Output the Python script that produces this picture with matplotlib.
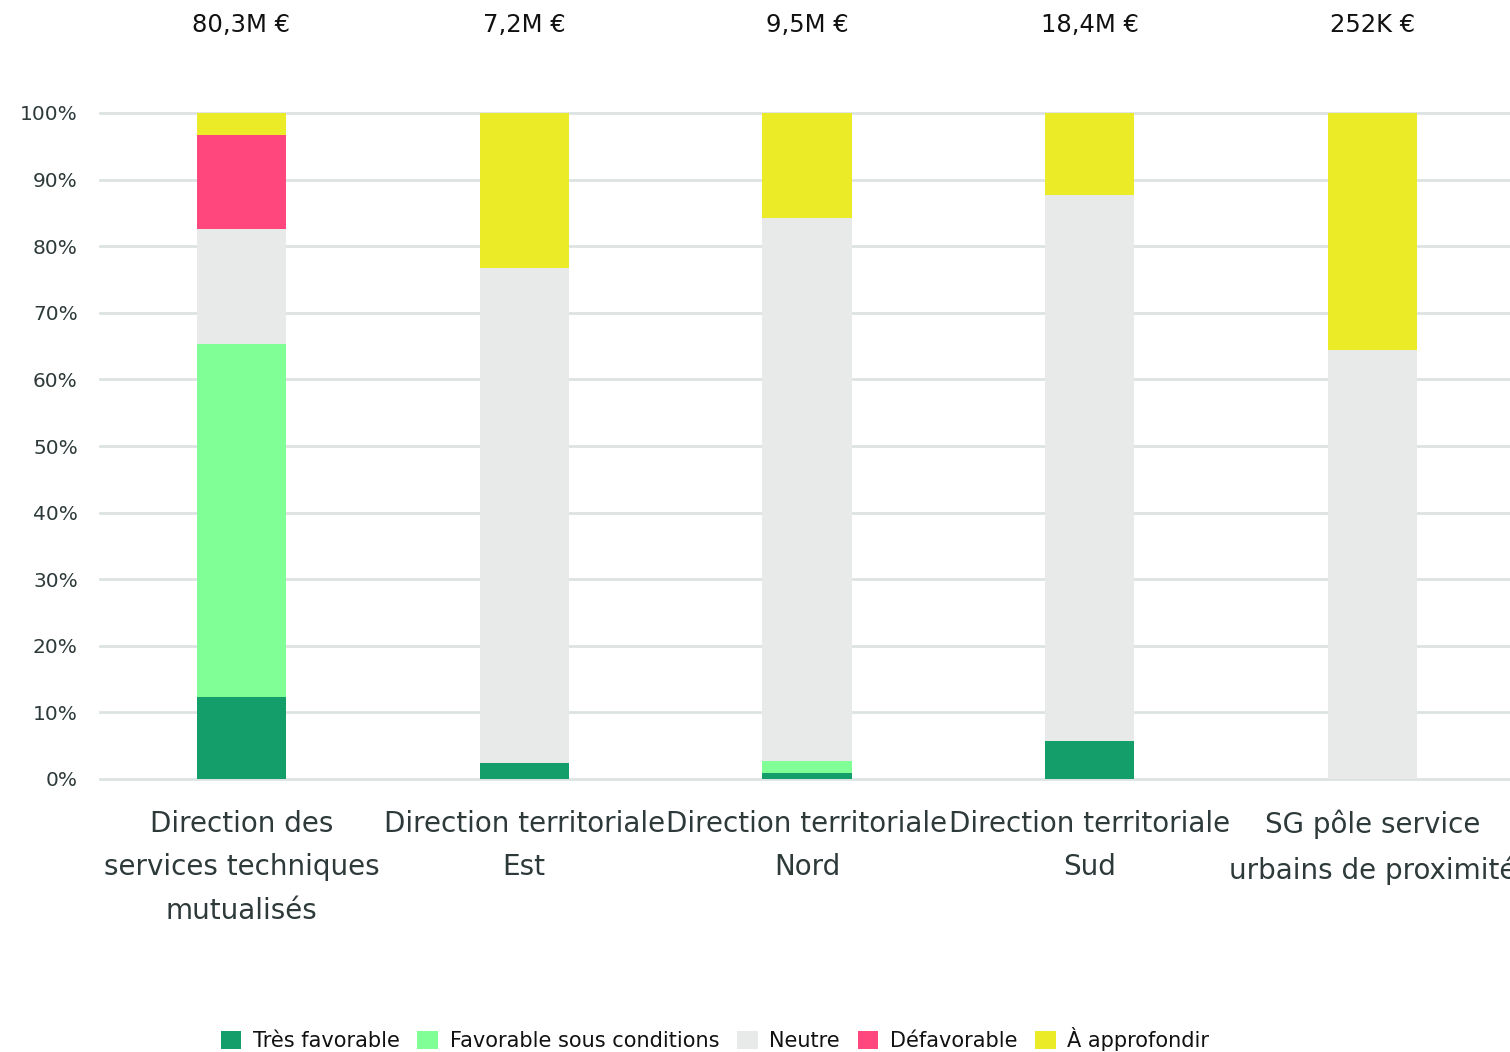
import matplotlib
matplotlib.use("Agg")
import matplotlib.pyplot as plt
import matplotlib.transforms as mtransforms
from matplotlib.patches import Patch
import numpy as np

plt.rcParams['font.family'] = ['DejaVu Sans']

categories = [
    "Direction des\nservices techniques\nmutualisés",
    "Direction territoriale\nEst",
    "Direction territoriale\nNord",
    "Direction territoriale\nSud",
    "SG pôle service\nurbains de proximité",
]
totals = ["80,3M €", "7,2M €", "9,5M €", "18,4M €", "252K €"]

series_names = ["Très favorable", "Favorable sous conditions", "Neutre",
                "Défavorable", "À approfondir"]
tres_favorable = [12.3, 2.4, 0.9, 5.7, 0.0]
favorable_conditions = [53.0, 0.0, 1.8, 0.0, 0.0]
neutre = [17.3, 74.3, 81.5, 82.0, 64.4]
defavorable = [14.1, 0.0, 0.0, 0.0, 0.0]
a_approfondir = [3.3, 23.3, 15.8, 12.3, 35.6]

colors = ["#149E6A", "#80FF96", "#E8EAEA", "#FF477E", "#EBEB28"]
series = [tres_favorable, favorable_conditions, neutre, defavorable, a_approfondir]

fig = plt.figure(figsize=(15.1, 10.52), dpi=100)
ax = fig.add_axes([100 / 1510, 1 - 779 / 1052, 1414 / 1510, (779 - 113) / 1052])

x = np.arange(len(categories))
bottom = np.zeros(len(categories))
for vals, col in zip(series, colors):
    v = np.array(vals) / 100.0
    ax.bar(x, v, bottom=bottom, width=0.315, color=col, zorder=3, linewidth=0)
    bottom += v

ax.set_xlim(-0.5, len(categories) - 0.5)
ax.set_ylim(0, 1)
ticks = np.arange(0, 1.01, 0.1)
ax.set_yticks(ticks)
ax.set_yticklabels([f"{int(round(t * 100))}%" for t in ticks],
                   fontsize=14.5, color="#2E3A3A")
ax.yaxis.grid(True, color="#DDE3E3", linewidth=2, zorder=0)
for gl in ax.get_ygridlines():
    gl.set_clip_on(False)
ax.set_axisbelow(True)
ax.tick_params(axis="y", length=0, pad=16)
ax.tick_params(axis="x", length=0, pad=22)
ax.set_xticks(x)
ax.set_xticklabels(categories, fontsize=20, color="#2E3A3A", linespacing=1.72, va="top")
for s in ax.spines.values():
    s.set_visible(False)

trans = mtransforms.blended_transform_factory(ax.transData, fig.transFigure)
for xi, t in zip(x, totals):
    ax.text(xi, 1 - 25 / 1052, t, transform=trans, ha="center", va="center",
            fontsize=17.5, color="#111111")

handles = [Patch(facecolor=c, edgecolor="none") for c in colors]
fig.legend(handles, series_names, loc="center", bbox_to_anchor=(715 / 1510, 1 - 1039 / 1052),
           ncol=5, frameon=False, fontsize=15, handlelength=1.0, handleheight=1.0,
           handletextpad=0.55, columnspacing=0.85, labelcolor="#111111")

fig.savefig("out.png", dpi=100)
